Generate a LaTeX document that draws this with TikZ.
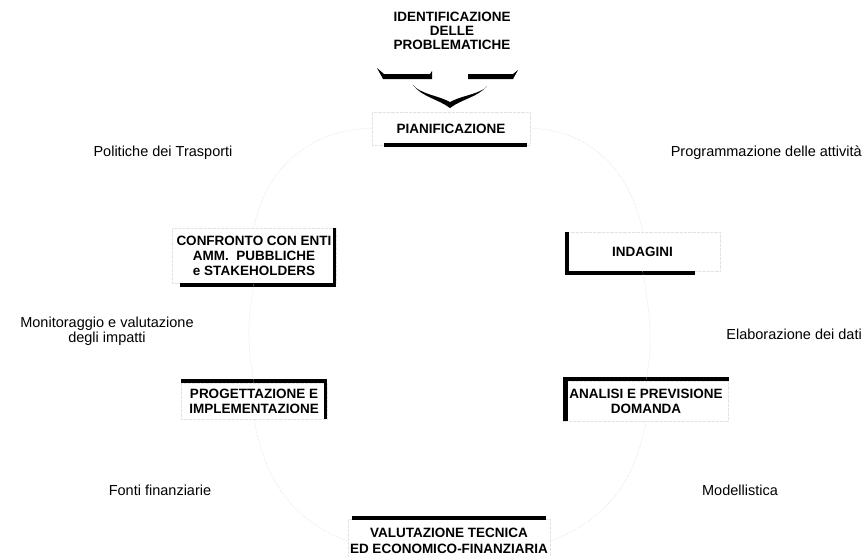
\documentclass[tikz,border=0pt]{standalone}
\usepackage{fontspec}
\setmainfont{Liberation Sans}
\begin{document}
\begin{tikzpicture}[x=1pt,y=-1pt,
  box/.style={font=\fontsize{13.5}{15}\selectfont\bfseries, align=center, inner sep=0pt, draw=gray!22, densely dotted, line width=0.3pt},
  lbl/.style={font=\fontsize{14.5}{13}\selectfont, align=center, inner sep=0pt},
  bar/.style={line width=4.5pt, black, solid, line cap=butt},
  sbar/.style={line width=3pt, black, solid, line cap=butt},
  link/.style={gray!30, densely dotted, line width=0.5pt}]
\useasboundingbox[fill=white] (0,0) rectangle (865,557);

% title and chevron
\node[font=\fontsize{13.5}{14}\selectfont\bfseries, align=center, inner sep=0pt] (ident) at (452,31) {IDENTIFICAZIONE\\DELLE\\PROBLEMATICHE};
\fill (377,68) -- (383,79) -- (432,79) -- (432,71) -- (430,74) -- (384,74) -- cycle;
\fill (468,74) -- (468,79) -- (513,79) -- (518,70) -- (513,74) -- cycle;
\fill (413,85) .. controls (422,97) and (438,99) .. (450,108)
  .. controls (462,99) and (478,97) .. (487,86)
  -- (484,89) .. controls (474,95) and (461,96) .. (450,102)
  .. controls (439,96) and (426,95) .. (416,88) -- cycle;

% boxes
\node[box, minimum width=158pt, minimum height=33pt] (pian) at (451,128.5) {PIANIFICAZIONE};
\node[box, minimum width=164pt, minimum height=55pt] (conf) at (254,255.5) {CONFRONTO CON ENTI\\AMM.\ \ PUBBLICHE\\e STAKEHOLDERS};
\node[box, minimum width=155pt, minimum height=39pt] (indag) at (642.5,251.5) {INDAGINI};
\node[box, minimum width=146pt, minimum height=36pt] (prog) at (254,401) {PROGETTAZIONE E\\IMPLEMENTAZIONE};
\node[box, minimum width=165pt, minimum height=40pt] (anal) at (646,401) {ANALISI E PREVISIONE\\DOMANDA};
\node[box, minimum width=202pt, minimum height=44pt, font=\fontsize{13.5}{16}\selectfont\bfseries] (valu) at (449,541) {VALUTAZIONE TECNICA\\ED ECONOMICO-FINANZIARIA};

% shadow bars
\draw[bar] ([xshift=12pt]pian.south west) -- ([xshift=-3pt]pian.south east);
\draw[bar] ([xshift=8pt,yshift=-2pt]conf.south west) -- ([yshift=-2pt]conf.south east);
\draw[sbar] ([xshift=-1.5pt]conf.north east) -- ([xshift=-1.5pt]conf.south east);
\draw[bar] ([xshift=2pt]indag.north west) -- ([xshift=2pt]indag.south west);
\draw[bar] ([yshift=-2pt]indag.south west) -- ([xshift=-25pt,yshift=-2pt]indag.south east);
\draw[bar] ([yshift=2pt]prog.north west) -- ([yshift=2pt]prog.north east);
\draw[sbar] ([xshift=-1.5pt]prog.north east) -- ([xshift=-1.5pt]prog.south east);
\draw[bar] ([xshift=2pt]anal.north west) -- ([xshift=2pt]anal.south west);
\draw[bar] ([yshift=2pt]anal.north west) -- ([yshift=2pt]anal.north east);
\draw[bar] ([xshift=4pt,yshift=1pt]valu.north west) -- ([xshift=-4pt,yshift=1pt]valu.north east);

% faint connectors
\draw[link] (pian.east) to[out=0,in=100] (indag.north);
\draw[link] (indag.south) to[out=-80,in=80] (anal.north);
\draw[link] (anal.south) to[out=-100,in=20] (valu.east);
\draw[link] (valu.west) to[out=160,in=-80] (prog.south);
\draw[link] (prog.north) to[out=100,in=-100] (conf.south);
\draw[link] (conf.north) to[out=80,in=180] (pian.west);

% labels
\node[lbl] (l1) at (163,153) {Politiche dei Trasporti};
\node[lbl, anchor=east] (l2) at (862,153) {Programmazione delle attività};
\node[lbl] (l3) at (107,331.5) {Monitoraggio e valutazione\\degli impatti};
\node[lbl, anchor=east] (l4) at (862,334) {Elaborazione dei dati};
\node[lbl] (l5) at (160,490) {Fonti finanziarie};
\node[lbl] (l6) at (740,490) {Modellistica};
\end{tikzpicture}
\end{document}
